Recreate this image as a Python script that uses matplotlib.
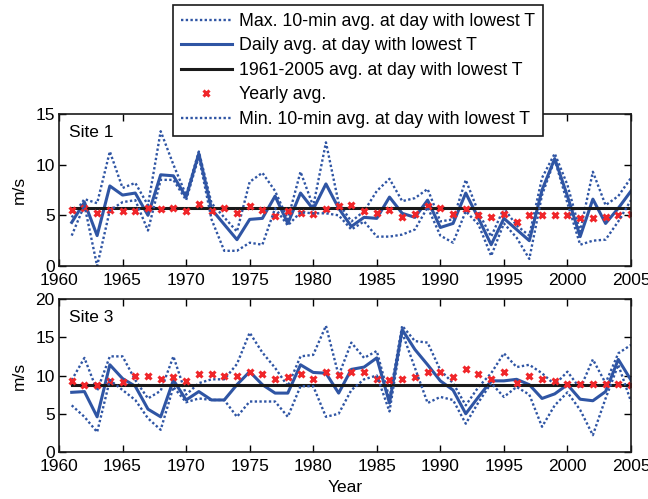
import matplotlib.pyplot as plt

# Données
annees = list(range(1961, 2006))

# Site 1
s1_max = [4.8, 6.6, 6.2, 11.3, 7.7, 8.2, 6.0, 13.3, 10.0, 7.0, 11.3, 6.2, 4.8, 3.4, 8.3,
          9.2, 7.4, 4.6, 9.3, 5.9, 12.2, 6.2, 4.4, 5.4, 7.4, 8.6, 6.4, 6.7, 7.6, 4.4,
          4.6, 8.5, 5.3, 2.9, 5.7, 4.0, 3.0, 8.7, 11.1, 8.0, 3.4, 9.3, 6.0, 6.9, 8.7]
s1_jour = [4.3, 6.3, 3.0, 7.9, 7.0, 7.2, 5.0, 9.0, 8.9, 6.8, 11.1, 5.6, 4.1, 2.6, 4.6,
           4.7, 6.9, 4.2, 7.2, 5.6, 8.1, 5.7, 3.9, 4.8, 4.7, 6.8, 5.2, 4.8, 6.5, 3.8,
           4.2, 7.2, 4.7, 2.1, 4.7, 3.6, 2.5, 7.5, 10.6, 6.9, 2.9, 6.6, 4.2, 5.7, 7.4]
s1_min = [3.0, 6.0, 0.0, 5.5, 6.3, 6.5, 3.5, 8.5, 8.5, 6.5, 10.8, 4.6, 1.5, 1.5, 2.3,
          2.1, 5.7, 4.0, 5.3, 5.2, 5.2, 5.0, 3.6, 4.4, 2.9, 2.9, 3.1, 3.6, 5.8, 3.0,
          2.3, 5.4, 4.1, 1.0, 4.2, 2.8, 0.7, 7.0, 10.5, 6.2, 2.1, 2.5, 2.6, 4.4, 6.5]
s1_annuel = [5.5, 5.7, 5.2, 5.5, 5.4, 5.4, 5.7, 5.6, 5.7, 5.4, 6.1, 5.4, 5.7, 5.2, 5.9,
             5.5, 4.9, 5.4, 5.2, 5.1, 5.6, 5.9, 6.0, 5.4, 5.2, 5.5, 4.8, 5.1, 5.9, 5.7,
             5.1, 5.6, 5.0, 4.8, 5.1, 4.3, 5.0, 5.0, 5.0, 5.0, 4.7, 4.7, 4.8, 5.0, 5.1]
s1_moy = 5.75

# Site 3
s3_max = [9.4, 12.3, 8.0, 12.5, 12.5, 9.4, 7.0, 8.0, 12.5, 7.5, 9.0, 9.5, 9.5, 11.5, 15.6,
          13.0, 11.0, 8.6, 12.5, 12.7, 16.5, 10.0, 14.3, 12.3, 13.2, 7.0, 16.5, 14.5, 14.3, 10.7,
          9.0, 6.1, 8.5, 10.3, 12.9, 11.1, 11.4, 10.3, 8.8, 10.5, 8.3, 12.1, 9.0, 12.9, 14.0]
s3_jour = [7.8, 7.9, 4.6, 11.4, 9.6, 8.6, 5.6, 4.6, 9.4, 6.8, 7.9, 6.8, 6.8, 8.8, 10.5,
           8.8, 7.7, 7.7, 11.4, 10.4, 10.3, 7.7, 10.8, 11.1, 12.3, 6.4, 16.0, 13.4, 11.4, 9.3,
           8.1, 5.0, 7.2, 9.3, 9.3, 9.5, 8.8, 7.0, 7.6, 8.8, 6.9, 6.7, 7.9, 12.1, 9.4]
s3_min = [6.1, 4.6, 2.6, 9.4, 8.1, 6.8, 4.4, 2.9, 8.5, 6.5, 7.0, 6.8, 6.8, 4.6, 6.6,
          6.6, 6.6, 4.6, 8.6, 8.6, 4.6, 5.0, 8.1, 9.5, 10.0, 5.3, 15.6, 11.0, 6.4, 7.2,
          6.8, 3.7, 6.5, 9.0, 7.2, 8.5, 7.5, 3.3, 6.1, 7.8, 5.5, 2.2, 7.0, 11.4, 6.6]
s3_annuel = [9.3, 8.8, 8.8, 9.3, 9.2, 9.9, 9.9, 9.6, 9.8, 9.3, 10.2, 10.2, 10.0, 10.0, 10.5,
             10.2, 9.6, 9.8, 10.2, 9.5, 10.4, 10.1, 10.5, 10.4, 9.6, 9.4, 9.6, 9.8, 10.5, 10.4,
             9.8, 10.8, 10.2, 9.5, 10.4, 9.0, 10.0, 9.6, 9.3, 8.9, 8.9, 8.9, 8.9, 8.9, 8.8]
s3_moy = 8.8

plt.rcParams['font.family'] = ['Liberation Sans', 'DejaVu Sans']
plt.rcParams['font.size'] = 12

bleu = "#2f55a4"
noir = "#1a1a1a"

fig = plt.figure(figsize=(6.48, 4.99), dpi=100)
ax1 = fig.add_axes([59 / 648, 1 - 266 / 499, 572 / 648, 152 / 499])
ax2 = fig.add_axes([59 / 648, 1 - 452 / 499, 572 / 648, 153 / 499])


def tracer(ax, vmax, vjour, vmin, vannuel, moy, ymax, nom):
    ax.plot(annees, vmax, color=bleu, lw=1.7, ls=(0, (1, 1)),
            label='Max. 10-min avg. at day with lowest T')
    ax.plot(annees, vjour, color=bleu, lw=2.2,
            label='Daily avg. at day with lowest T')
    ax.plot([annees[0], annees[-1]], [moy, moy], color=noir, lw=2.2,
            label='1961-2005 avg. at day with lowest T')
    ax.plot(annees, vannuel, ls='none', marker='x', color='#f0262a',
            markersize=5, markeredgewidth=2.2, label='Yearly avg.')
    ax.plot(annees, vmin, color=bleu, lw=1.7, ls=(0, (1, 1)),
            label='Min. 10-min avg. at day with lowest T')
    ax.set_xlim(1960, 2005)
    ax.set_ylim(0, ymax)
    ax.set_xticks(range(1960, 2006, 5))
    ax.set_yticks(range(0, ymax + 1, 5))
    ax.set_ylabel('m/s')
    ax.tick_params(direction='in', top=True, right=True, length=5, width=1,
                   labelsize=12.5)
    ax.tick_params(axis='x', pad=5)
    ax.tick_params(axis='y', pad=3)
    for s in ax.spines.values():
        s.set_linewidth(1.2)
        s.set_color(noir)
    ax.text(0.0175, 0.88, nom, transform=ax.transAxes, fontsize=12.5,
            va='center', ha='left')


tracer(ax1, s1_max, s1_jour, s1_min, s1_annuel, s1_moy, 15, 'Site 1')
tracer(ax2, s3_max, s3_jour, s3_min, s3_annuel, s3_moy, 20, 'Site 3')
ax2.set_xlabel('Year', fontsize=12.5, labelpad=4)
ax1.yaxis.set_label_coords(-0.056, 0.5)
ax2.yaxis.set_label_coords(-0.056, 0.5)
ax1.yaxis.label.set_fontsize(12.5)
ax2.yaxis.label.set_fontsize(12.5)

# Légende commune
h, l = ax1.get_legend_handles_labels()
leg = fig.legend(h, l, loc='upper left', bbox_to_anchor=(173 / 648, 1 - 5 / 499),
                 fancybox=False, framealpha=1, edgecolor=noir, fontsize=12.8,
                 handlelength=2.85, handletextpad=0.4, labelspacing=0.42,
                 borderpad=0.45, borderaxespad=0)
leg.get_frame().set_linewidth(1.2)
leg.set_zorder(10)

plt.savefig("out.png", dpi=100)
